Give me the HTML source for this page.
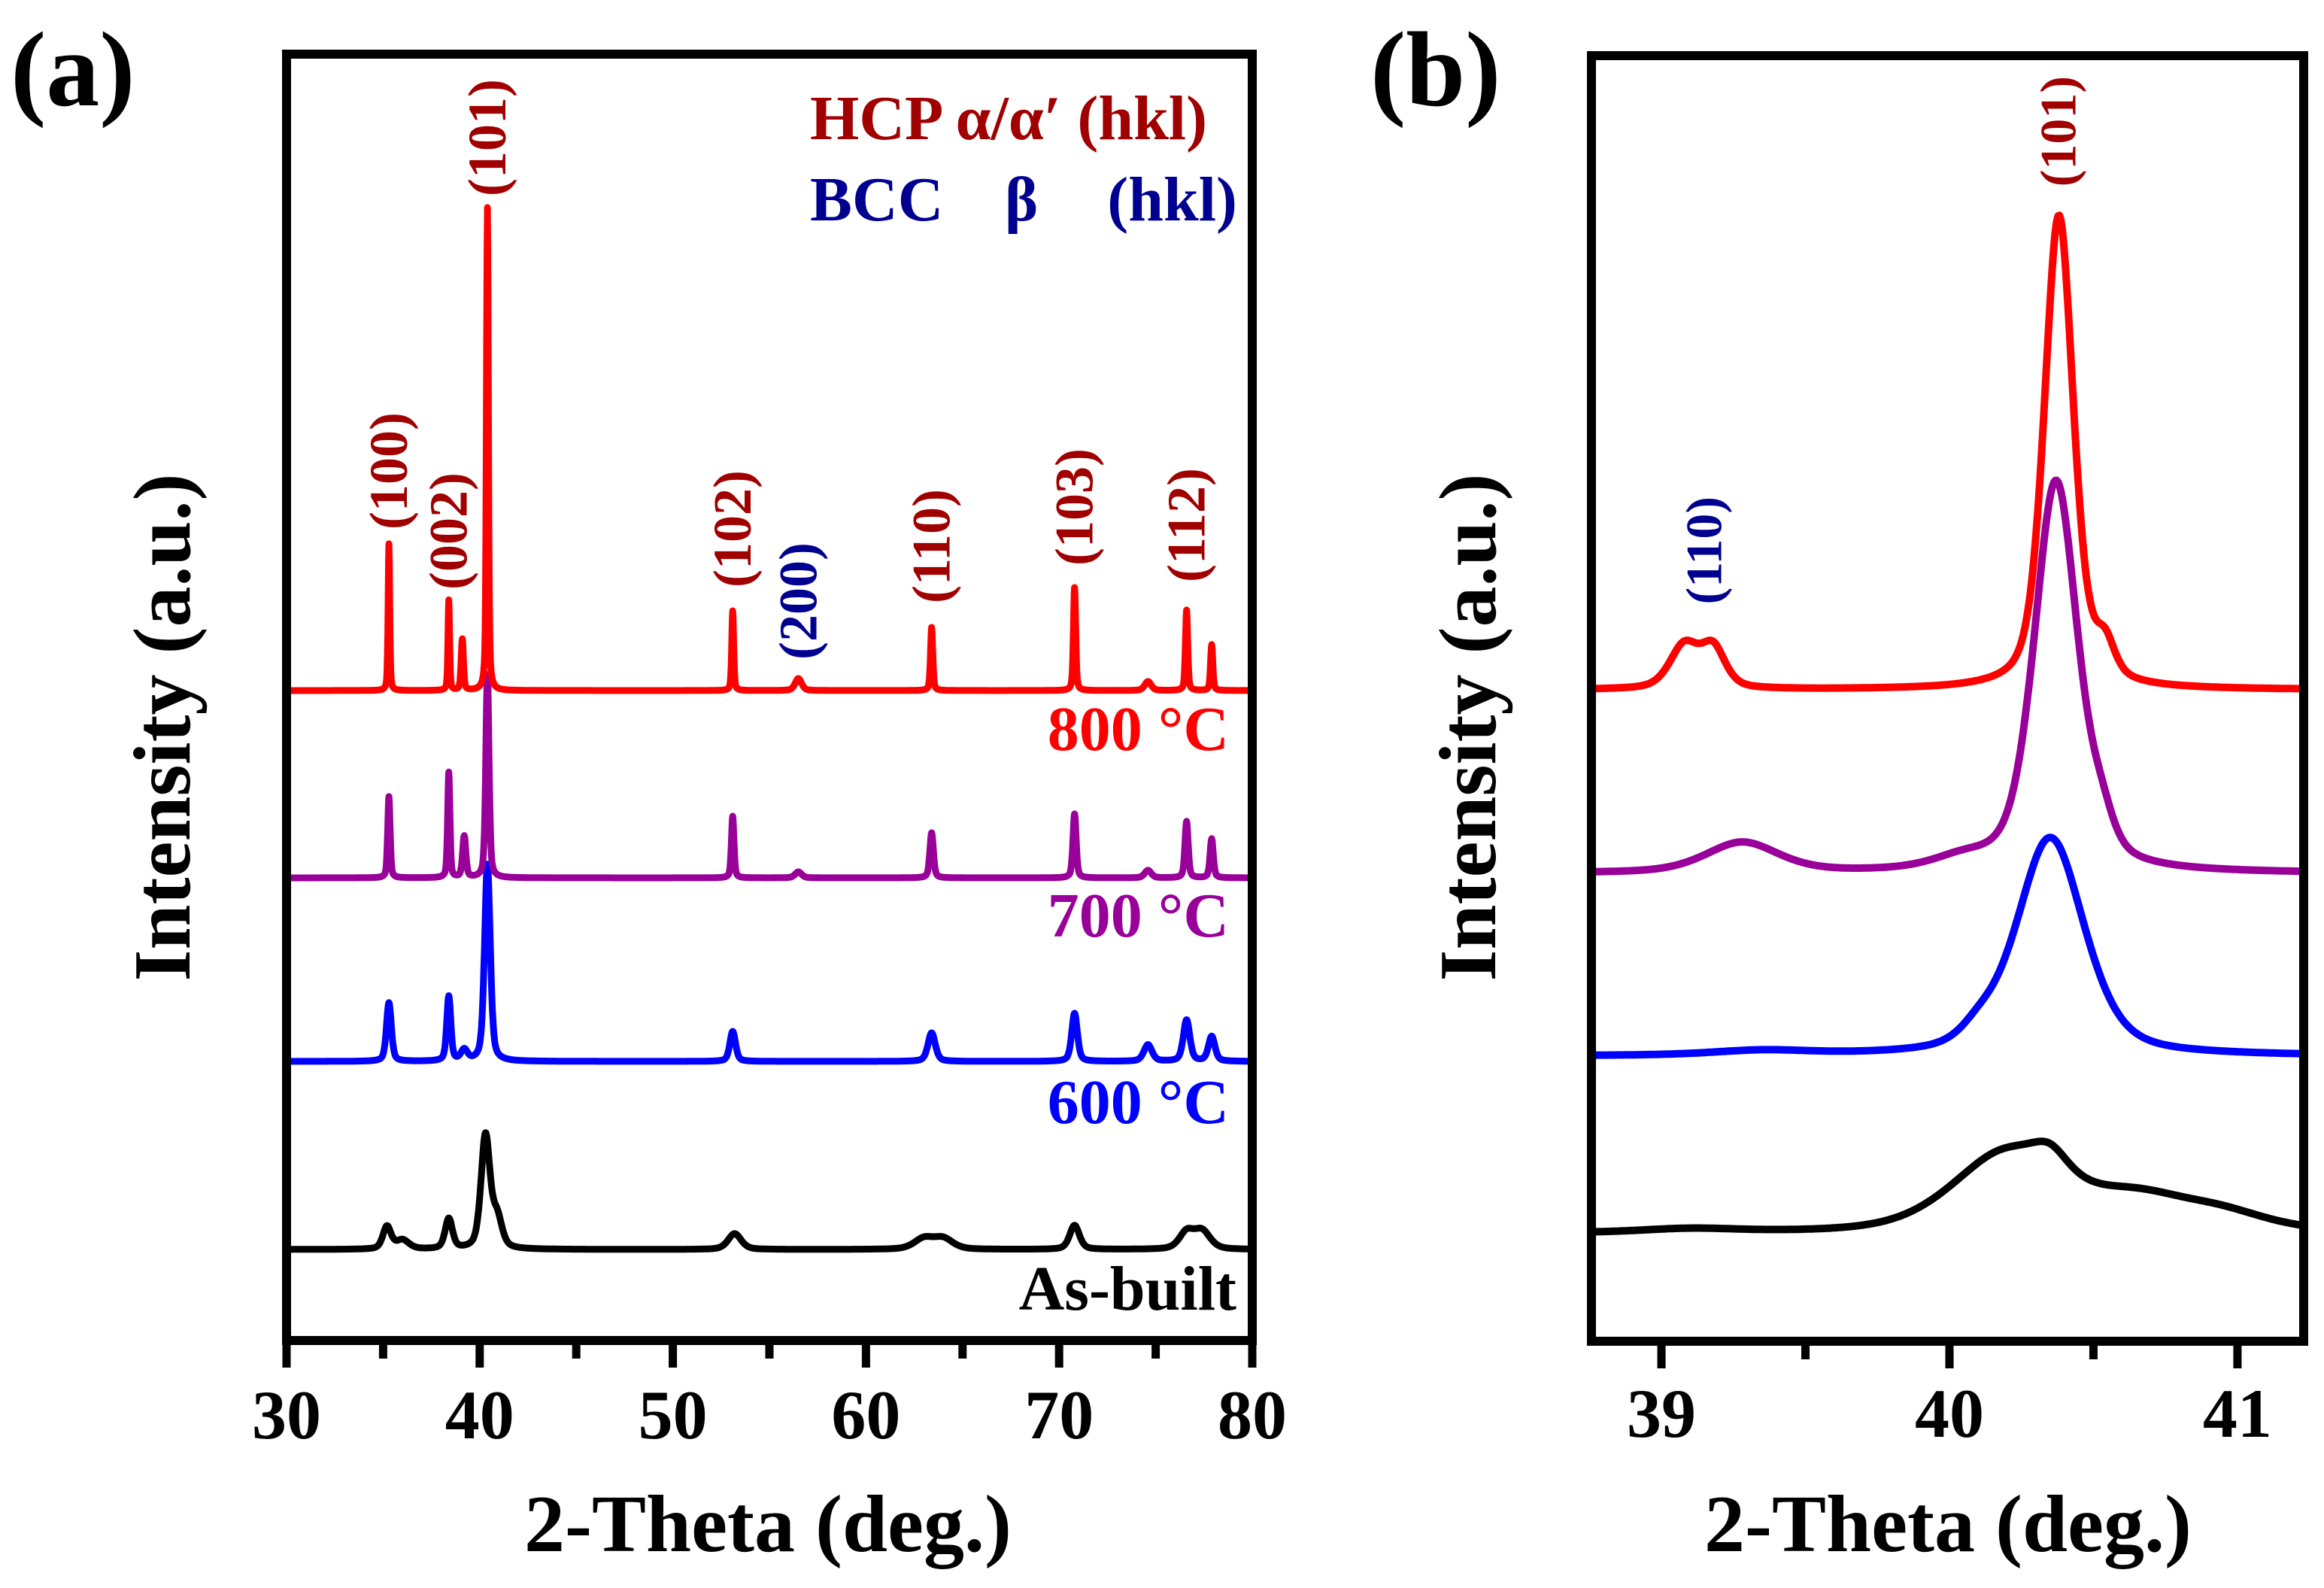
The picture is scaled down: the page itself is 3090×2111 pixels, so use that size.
<!DOCTYPE html>
<html><head><meta charset="utf-8"><style>
html,body{margin:0;padding:0;background:#fff;}
svg{display:block;}
text{font-family:"Liberation Serif",serif;font-weight:bold;}
</style></head><body>
<svg id="fig" xmlns="http://www.w3.org/2000/svg" width="3090" height="2111" viewBox="0 0 3090 2111">
<defs>
<clipPath id="clipA"><rect x="381" y="72" width="1284" height="1710"/></clipPath>
<clipPath id="clipB"><rect x="2116" y="74" width="947" height="1709"/></clipPath>
</defs>
<text x="14" y="140" font-size="142">(a)</text>
<text x="1822" y="140" font-size="142">(b)</text>
<text transform="translate(252,967) rotate(-90)" text-anchor="middle" font-size="108">Intensity (a.u.)</text>
<text transform="translate(1988,967) rotate(-90)" text-anchor="middle" font-size="108">Intensity (a.u.)</text>
<text x="1021" y="2062" text-anchor="middle" font-size="108">2-Theta (deg.)</text>
<text x="2590" y="2062" text-anchor="middle" font-size="108">2-Theta (deg.)</text>
<g id="plotA" clip-path="url(#clipA)"></g>
<g id="plotB" clip-path="url(#clipB)"></g>
<g id="axes"></g>
<g id="labels"></g>
</svg>
<script>
// ---------- Panel (a) data ----------
const aDomain = [30, 80];
const aTicksMajor = [30, 40, 50, 60, 70, 80];
const aTicksMinor = [35, 45, 55, 65, 75];
const aSeriesNames = ['as-built', '600C', '700C', '800C'];
const aOffsets = [121, 371, 615, 864];
const aBlackCenters = [35.2, 36.0, 38.4, 40.3, 40.9, 53.2, 63.0, 64.0, 70.8, 76.6, 77.4];
const aBlackHeights = [30, 12, 40, 150, 40, 21, 14, 14, 32, 22, 24];
const aBlackWidths = [0.5, 0.8, 0.45, 0.55, 0.6, 0.8, 1.2, 1.2, 0.6, 0.9, 1.0];
const aBlueCenters = [35.3, 38.4, 39.2, 40.4, 53.1, 63.4, 70.8, 74.6, 76.6, 77.9];
const aBlueHeights = [78, 86, 14, 262, 40, 38, 64, 22, 55, 33];
const aBlueWidths = [0.3, 0.25, 0.4, 0.35, 0.35, 0.45, 0.35, 0.5, 0.4, 0.4];
const aPurpleCenters = [35.3, 38.4, 39.2, 40.4, 53.1, 56.5, 63.4, 70.8, 74.6, 76.6, 77.9];
const aPurpleHeights = [108, 140, 55, 270, 82, 8, 60, 85, 10, 75, 52];
const aPurpleWidths = [0.15, 0.14, 0.2, 0.2, 0.16, 0.4, 0.22, 0.2, 0.4, 0.2, 0.2];
const aRedCenters = [35.3, 38.4, 39.1, 40.4, 53.1, 56.5, 63.4, 70.8, 74.6, 76.6, 77.9];
const aRedHeights = [195, 120, 68, 642, 106, 16, 84, 137, 12, 107, 61];
const aRedWidths = [0.1, 0.1, 0.14, 0.12, 0.12, 0.4, 0.14, 0.14, 0.4, 0.14, 0.14];

// ---------- Panel (b) data ----------
const bDomain = [38.757, 41.23];
const bTicksMajor = [39, 40, 41];
const bTicksMinor = [39.5, 40.5];
const bOffsets = [143, 379, 622, 866];
const bBlackCenters = [39.1, 40.2, 40.35, 40.65, 40.95];
const bBlackHeights = [5, 105, 30, 42, 20];
const bBlackWidths = [0.4, 0.45, 0.15, 0.45, 0.4];
const bBlueCenters = [39.35, 40.1, 40.35];
const bBlueHeights = [6, 18, 290];
const bBlueWidths = [0.4, 0.15, 0.28];
const bPurpleCenters = [39.28, 40.05, 40.37, 40.53];
const bPurpleHeights = [40, 14, 520, 36];
const bPurpleWidths = [0.3, 0.25, 0.18, 0.1];
const bRedCenters = [39.08, 39.18, 40.38, 40.54];
const bRedHeights = [58, 52, 630, 45];
const bRedWidths = [0.12, 0.1, 0.12, 0.08];

const NS = 'http://www.w3.org/2000/svg';
const A = {x0: 381, x1: 1665, yTop: 72, yBot: 1782};
const B = {x0: 2116, x1: 3063, yTop: 74, yBot: 1783};
function xA(v){ return A.x0 + (v - aDomain[0]) / (aDomain[1] - aDomain[0]) * (A.x1 - A.x0); }
function xB(v){ return B.x0 + (v - bDomain[0]) / (bDomain[1] - bDomain[0]) * (B.x1 - B.x0); }
function yA(v){ return A.yBot - v; }
function yB(v){ return B.yBot - v; }

function profile(t, cs, hs, ws){
  let s = 0;
  for (let i = 0; i < cs.length; i++){
    const d = (t - cs[i]) / (ws[i] / 2);
    const L = 1 / (1 + d * d);
    const G = Math.exp(-0.693 * d * d);
    s += hs[i] * (0.45 * L + 0.55 * G);
  }
  return s;
}
function tracePath(g, name, color, width, dom, step, xf, yf, off, cs, hs, ws){
  let d = '';
  for (let t = dom[0]; t <= dom[1] + 1e-9; t += step){
    const v = off + profile(t, cs, hs, ws);
    d += (d ? 'L' : 'M') + xf(t).toFixed(1) + ',' + yf(v).toFixed(1);
  }
  const p = document.createElementNS(NS, 'path');
  p.setAttribute('d', d);
  p.setAttribute('fill', 'none');
  p.setAttribute('stroke', color);
  p.setAttribute('stroke-width', width);
  p.setAttribute('stroke-linejoin', 'round');
  
  
  g.appendChild(p);
}
const gA = document.getElementById('plotA');
tracePath(gA, 'trace-as-built-a', '#000000', 9, aDomain, 0.02, xA, yA, aOffsets[0], aBlackCenters, aBlackHeights, aBlackWidths);
tracePath(gA, 'trace-600c-a', '#0000ff', 9, aDomain, 0.02, xA, yA, aOffsets[1], aBlueCenters, aBlueHeights, aBlueWidths);
tracePath(gA, 'trace-700c-a', '#990099', 9, aDomain, 0.02, xA, yA, aOffsets[2], aPurpleCenters, aPurpleHeights, aPurpleWidths);
tracePath(gA, 'trace-800c-a', '#ff0000', 9, aDomain, 0.02, xA, yA, aOffsets[3], aRedCenters, aRedHeights, aRedWidths);
const gB = document.getElementById('plotB');
tracePath(gB, 'trace-as-built-b', '#000000', 10, bDomain, 0.005, xB, yB, bOffsets[0], bBlackCenters, bBlackHeights, bBlackWidths);
tracePath(gB, 'trace-600c-b', '#0000ff', 10, bDomain, 0.005, xB, yB, bOffsets[1], bBlueCenters, bBlueHeights, bBlueWidths);
tracePath(gB, 'trace-700c-b', '#990099', 10, bDomain, 0.005, xB, yB, bOffsets[2], bPurpleCenters, bPurpleHeights, bPurpleWidths);
tracePath(gB, 'trace-800c-b', '#ff0000', 10, bDomain, 0.005, xB, yB, bOffsets[3], bRedCenters, bRedHeights, bRedWidths);

const gAx = document.getElementById('axes');
function mk(tag, attrs, parent){
  const e = document.createElementNS(NS, tag);
  for (const k in attrs) e.setAttribute(k, attrs[k]);
  parent.appendChild(e);
  return e;
}
const fa = mk('rect', {x: A.x0, y: A.yTop, width: A.x1 - A.x0, height: A.yBot - A.yTop, fill: 'none', stroke: '#000', 'stroke-width': 12}, gAx);


const fb = mk('rect', {x: B.x0, y: B.yTop, width: B.x1 - B.x0, height: B.yBot - B.yTop, fill: 'none', stroke: '#000', 'stroke-width': 12}, gAx);


function ticks(major, minor, xf, yBot, ty){
  major.forEach(v => {
    const l = mk('line', {x1: xf(v), x2: xf(v), y1: yBot, y2: yBot + 36, stroke: '#000', 'stroke-width': 11}, gAx);
    
    
    const t = mk('text', {x: xf(v), y: ty, 'text-anchor': 'middle', 'font-size': 92}, gAx);
    t.textContent = v;
    
    
  });
  minor.forEach(v => {
    const l = mk('line', {x1: xf(v), x2: xf(v), y1: yBot, y2: yBot + 24, stroke: '#000', 'stroke-width': 11}, gAx);
    
    
  });
}
ticks(aTicksMajor, aTicksMinor, xA, A.yBot, 1912);
ticks(bTicksMajor, bTicksMinor, xB, B.yBot, 1910);

const gL = document.getElementById('labels');
const aPeakLabels = ['(100)', '(002)', '(101)', '(102)', '(200)', '(110)', '(103)', '(112)'];
const aPeakLabelX = [35.3, 38.4, 40.4, 53.1, 56.5, 63.4, 70.8, 76.6];
const aPeakLabelTop = [548, 628, 105, 625, 721, 650, 596, 622];
const aPeakLabelColor = ['#a00000', '#a00000', '#a00000', '#a00000', '#000090', '#a00000', '#a00000', '#a00000'];
aPeakLabels.forEach((s, i) => {
  const t = mk('text', {transform: 'translate(' + (xA(aPeakLabelX[i]) + 24) + ',' + aPeakLabelTop[i] + ') rotate(-90)', 'text-anchor': 'end', 'font-size': 72, fill: aPeakLabelColor[i]}, gL);
  t.textContent = s;
  
  
});
const bPeakLabels = ['(110)', '(101)'];
const bPeakLabelX = [39.15, 40.38];
const bPeakLabelTop = [660, 101];
const bPeakLabelColor = ['#000090', '#a00000'];
bPeakLabels.forEach((s, i) => {
  const t = mk('text', {transform: 'translate(' + (xB(bPeakLabelX[i]) + 22) + ',' + bPeakLabelTop[i] + ') rotate(-90)', 'text-anchor': 'end', 'font-size': 68, fill: bPeakLabelColor[i]}, gL);
  t.textContent = s;
  
  
});
</script>
<svg style="position:absolute;left:0;top:0" width="3090" height="2111" viewBox="0 0 3090 2111">
<text x="1077" y="185" font-size="84" fill="#a00000" style="font-family:'Liberation Serif',serif;font-weight:bold">HCP α/α′ (hkl)</text>
<text x="1077" y="293" font-size="84" fill="#000090" style="font-family:'Liberation Serif',serif;font-weight:bold">BCC</text>
<text x="1336" y="293" font-size="84" fill="#000090" style="font-family:'Liberation Serif',serif;font-weight:bold">β</text>
<text x="1645" y="293" text-anchor="end" font-size="84" fill="#000090" style="font-family:'Liberation Serif',serif;font-weight:bold">(hkl)</text>
<text x="1634" y="997" text-anchor="end" font-size="84" fill="#ff0000" style="font-family:'Liberation Serif',serif;font-weight:bold">800 °C</text>
<text x="1634" y="1245" text-anchor="end" font-size="84" fill="#990099" style="font-family:'Liberation Serif',serif;font-weight:bold">700 °C</text>
<text x="1634" y="1493" text-anchor="end" font-size="84" fill="#0000ff" style="font-family:'Liberation Serif',serif;font-weight:bold">600 °C</text>
<text x="1644" y="1741" text-anchor="end" font-size="84" fill="#000000" style="font-family:'Liberation Serif',serif;font-weight:bold">As-built</text>
</svg>
</body></html>
